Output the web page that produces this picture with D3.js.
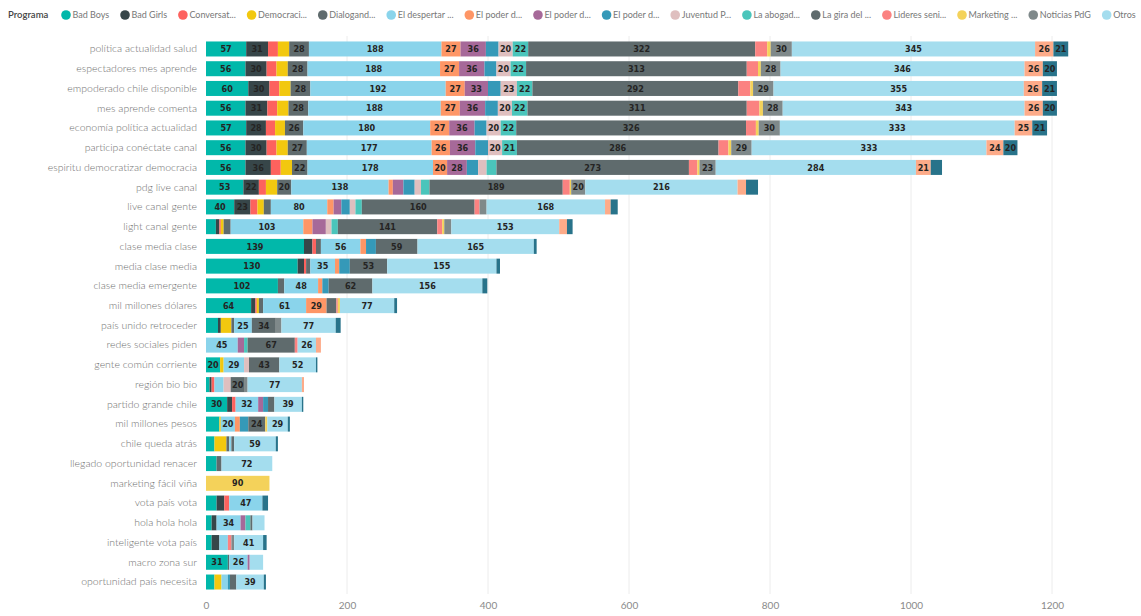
<!DOCTYPE html>
<html>
<head>
<meta charset="utf-8">
<script src="https://cdn.jsdelivr.net/npm/d3@7"></script>
<style>
  body { margin: 0; background: #fff; }
  svg { display: block; font-family: Lato, "Open Sans", sans-serif; }
</style>
</head>
<body>
<svg id="chart" width="1141" height="616"></svg>
<script>
/* ---------------- DATA ---------------- */

var categories = [
  "política actualidad salud", "espectadores mes aprende", "empoderado chile disponible",
  "mes aprende comenta", "economía política actualidad", "participa conéctate canal",
  "espiritu democratizar democracia", "pdg live canal", "live canal gente", "light canal gente",
  "clase media clase", "media clase media", "clase media emergente", "mil millones dólares",
  "país unido retroceder", "redes sociales piden", "gente común corriente", "región bio bio",
  "partido grande chile", "mil millones pesos", "chile queda atrás", "llegado oportunidad renacer",
  "marketing fácil viña", "vota país vota", "hola hola hola", "inteligente vota país",
  "macro zona sur", "oportunidad país necesita"
];

var seriesNames = [
  "Bad Boys", "Bad Girls", "Conversat...", "Democraci...", "Dialogand...", "El despertar ...",
  "El poder d...", "El poder d...", "El poder d...", "Juventud P...", "La abogad...",
  "La gira del ...", "Lideres seni...", "Marketing ...", "Noticias PdG", "Otros",
  "serie 17", "serie 18"
];

var seriesColors = [
  "#01B8AA", "#374649", "#FD625E", "#F2C80F", "#5F6B6D", "#8AD4EB", "#FE9666", "#A66999",
  "#3599B8", "#DFBFBF", "#4AC5BB", "#5F6B6D", "#FB8281", "#F4D25A", "#7F898A", "#A4DDEE",
  "#FDAB89", "#28738A"
];

// only the first 16 programas fit in the legend
var legendCount = 16;

// one array per series, one value per category (same order as categories)
var badBoys     = [57,56,60,56,57,56,56,53,40,14,139,130,102,64,17,0,20,5,30,19,12,15,0,15,8,8,31,12];
var badGirls    = [31,30,30,31,28,30,36,22,23,5,12,9,0,6,4,0,0,3,7,0,0,0,0,11,7,11,0,0];
var conversat   = [14,14,14,14,13,14,14,10,10,2,5,3,0,2,0,0,0,4,5,0,0,0,0,7,0,0,0,0];
var democraci   = [16,16,16,16,14,16,16,16,9,4,0,0,0,3,15,0,5,0,0,2,17,0,0,0,0,0,0,10];
var dialogand   = [28,28,28,28,26,27,22,20,10,10,7,6,9,6,4,0,0,0,0,0,4,0,0,0,0,0,2,0];
var despertar   = [188,188,192,188,180,177,178,138,80,103,56,35,48,61,25,45,29,13,32,20,3,0,0,47,34,12,26,9];
var poderNar    = [27,27,27,27,27,26,20,6,9,13,8,6,6,29,0,0,0,0,0,7,0,0,0,0,0,0,0,0];
var poderMor    = [36,36,33,36,36,36,28,15,11,19,0,0,0,0,0,9,0,0,7,0,0,0,0,0,7,0,3,0];
var poderAzul   = [18,17,18,18,17,18,16,16,12,0,14,15,9,0,0,0,0,0,7,12,0,0,0,0,0,0,0,3];
var juventud    = [20,20,23,20,20,20,12,9,8,8,0,0,0,0,0,0,7,10,0,0,0,0,0,0,0,0,0,0];
var abogad      = [22,22,22,22,22,21,14,12,9,9,0,0,0,0,0,5,0,0,0,0,0,0,0,0,7,0,0,0];
var laGira      = [322,313,292,311,326,286,273,189,160,141,59,53,62,14,34,67,43,20,9,24,4,7,0,0,3,0,0,9];
var lideres     = [17,16,17,18,14,14,12,10,7,7,0,0,0,2,0,4,0,0,0,0,0,0,0,0,0,5,0,0];
var marketing   = [5,4,4,5,4,4,3,2,0,3,0,0,0,3,0,0,0,0,0,3,0,0,90,0,0,0,0,0];
var noticias    = [30,28,29,28,30,29,23,20,10,10,0,0,0,0,8,0,0,4,0,0,0,0,0,0,0,4,0,0];
var otros       = [345,346,355,343,333,333,284,216,168,153,165,155,156,77,77,26,52,77,39,29,59,72,0,0,17,41,19,39];
var serie17     = [26,26,26,26,25,24,21,12,8,11,0,0,0,0,0,7,0,3,0,0,0,0,0,0,0,0,0,0];
var serie18     = [21,20,21,20,21,20,16,17,10,8,4,5,7,4,7,0,2,0,2,3,3,0,0,8,0,5,0,3];

var seriesValues = [badBoys, badGirls, conversat, democraci, dialogand, despertar, poderNar,
  poderMor, poderAzul, juventud, abogad, laGira, lideres, marketing, noticias, otros, serie17, serie18];

var xTicks = [0, 200, 400, 600, 800, 1000, 1200];

/* ---------------- SETUP ---------------- */

var svg = d3.select("#chart");

var x = d3.scaleLinear().domain([0, 1200]).range([206, 1052]);
var y = d3.scaleBand().domain(categories).range([39.1, 591.9])
    .paddingInner(0.24).paddingOuter(0.12);

/* table for d3.stack: one object per category */
var keys = seriesNames.map(function (d, i) { return "s" + i; });
var table = categories.map(function (c, ci) {
    var row = {cat: c};
    seriesValues.forEach(function (arr, si) { row["s" + si] = arr[ci]; });
    return row;
});
var stacked = d3.stack().keys(keys)(table);

/* gridlines */
svg.append("g").selectAll("line")
    .data(xTicks.slice(1))
    .join("line")
    .attr("x1", function (d) { return x(d); })
    .attr("x2", function (d) { return x(d); })
    .attr("y1", 36).attr("y2", 594)
    .attr("stroke", "#ececec")
    .attr("stroke-width", 1);

/* x axis */
var xAxis = svg.append("g")
    .attr("transform", "translate(0,600)")
    .call(d3.axisBottom(x).tickValues(xTicks).tickFormat(d3.format("d")).tickSize(0).tickPadding(2));
xAxis.select(".domain").remove();
xAxis.selectAll("text")
    .attr("fill", "#8a8a8a")
    .style("font-size", "10px")
    .style("font-family", "Lato, sans-serif");

/* y axis labels */
var yAxis = svg.append("g")
    .attr("transform", "translate(206,0)")
    .call(d3.axisLeft(y).tickSize(0).tickPadding(9));
yAxis.select(".domain").remove();
yAxis.selectAll("text")
    .attr("fill", "#6f6f6f")
    .style("font-size", "10.5px")
    .style("font-weight", "300")
    .style("font-family", "Lato, sans-serif");

/* bars */
var layer = svg.append("g").selectAll("g")
    .data(stacked)
    .join("g")
    .attr("fill", function (d, i) { return seriesColors[i]; });

layer.selectAll("rect")
    .data(function (d) { return d; })
    .join("rect")
    .attr("x", function (d) { return x(d[0]); })
    .attr("y", function (d) { return y(d.data.cat); })
    .attr("width", function (d) { return Math.max(0, x(d[1]) - x(d[0])); })
    .attr("height", y.bandwidth());

/* data labels, only when the segment is wide enough */
layer.selectAll("text")
    .data(function (d) { return d.filter(function (s) { return s[1] - s[0] >= 20; }); })
    .join("text")
    .attr("x", function (d) { return (x(d[0]) + x(d[1])) / 2; })
    .attr("y", function (d) { return y(d.data.cat) + y.bandwidth() / 2; })
    .attr("dy", "0.35em")
    .attr("text-anchor", "middle")
    .attr("fill", "#252423")
    .style("font-size", "9px")
    .style("font-weight", "600")
    .style("font-family", "'Liberation Sans Narrow', 'DejaVu Sans Condensed', Roboto, sans-serif")
    .text(function (d) { return d[1] - d[0]; });

/* ---------------- LEGEND ---------------- */
var legend = svg.append("g").attr("transform", "translate(8,15)");
legend.append("text")
    .attr("x", 0).attr("dy", "0.35em")
    .attr("fill", "#444")
    .style("font-size", "9.5px")
    .style("font-weight", "600")
    .text("Programa");

var lx = 53;
seriesNames.slice(0, legendCount).forEach(function (name, i) {
    var item = legend.append("g").attr("transform", "translate(" + lx + ",0)");
    item.append("circle").attr("cx", 5).attr("r", 4.8).attr("fill", seriesColors[i]);
    var t = item.append("text")
        .attr("x", 11.5).attr("dy", "0.35em")
        .attr("fill", "#777")
        .style("font-size", "9px")
        .text(name);
    lx += 11.5 + t.node().getComputedTextLength() + 10.8;
});
</script>
</body>
</html>
